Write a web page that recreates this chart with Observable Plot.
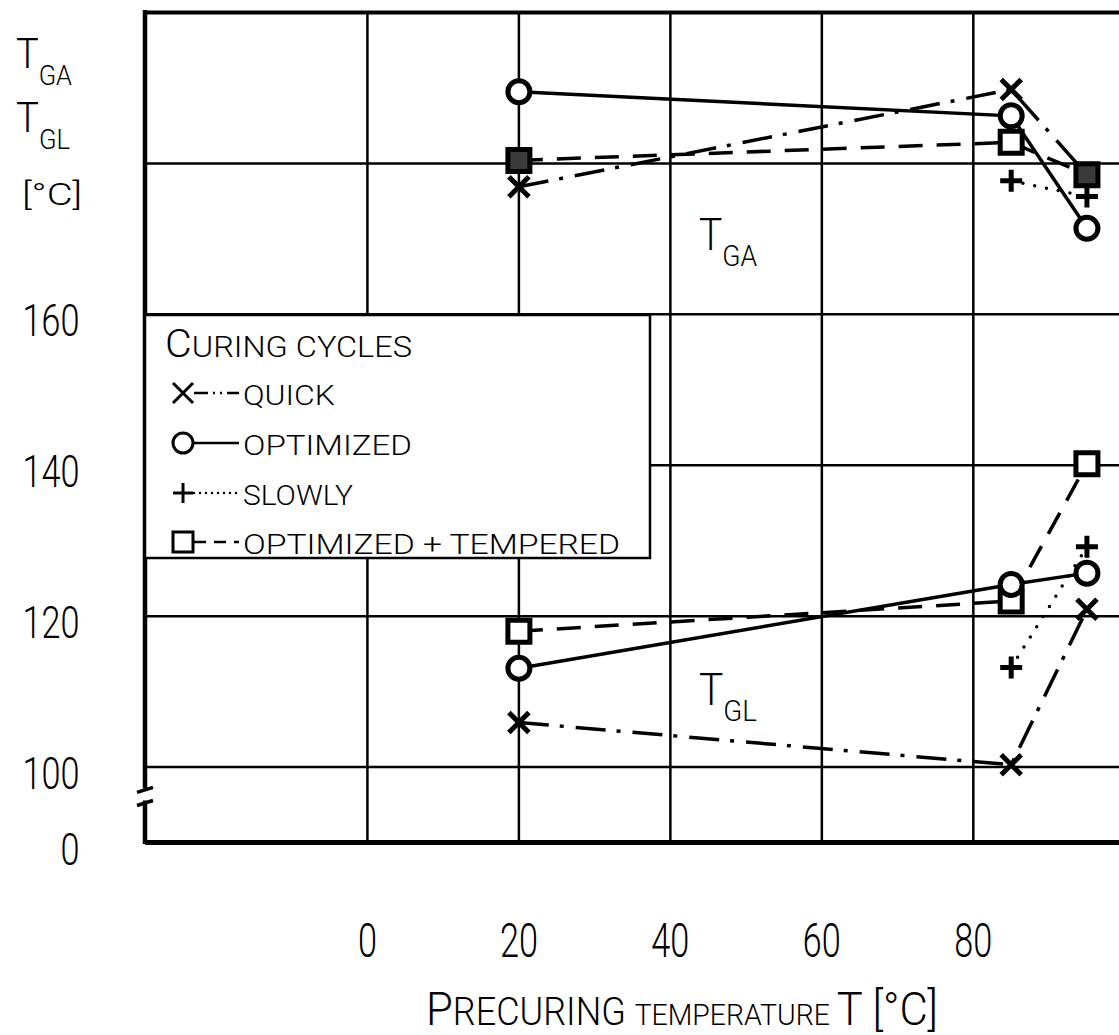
<!DOCTYPE html>
<html>
<head>
<meta charset="utf-8">
<script src="https://cdn.jsdelivr.net/npm/d3@7"></script>
<script src="https://cdn.jsdelivr.net/npm/@observablehq/plot@0.6"></script>
<style>
  html, body { margin: 0; padding: 0; background: #fff; }
  #chart svg { display: block; }
  #chart svg text { font-weight: 300; }
</style>
</head>
<body>
<div id="chart"></div>
<script>
// Precuring temperatures (°C) at which the glass transitions were measured
const precureTemps = [20, 85, 95];

// Upper glass transition T_GA (°C) for each curing cycle; null = not measured
const tgaQuick     = [176.9, 189.8, 178.5];
const tgaOptimized = [189.5, 186.3, 171.4];
const tgaSlowly    = [null, 177.7, 175.6];
const tgaTempered  = [180.4, 182.8, 178.5];

// Lower glass transition T_GL (°C) for each curing cycle
const tglQuick     = [105.9, 100.3, 120.9];
const tglOptimized = [113.1, 124.2, 125.7];
const tglSlowly    = [null, 113.2, 129.2];
const tglTempered  = [118.0, 122.0, 140.2];

const cycleNames = ["QUICK", "OPTIMIZED", "SLOWLY", "OPTIMIZED + TEMPERED"];

// Axis ticks; the lowest y tick sits on the axis break and reads "0"
const xTicks = [0, 20, 40, 60, 80];
const yTicks = [90, 100, 120, 140, 160];
const yTickLabels = ["0", "100", "120", "140", "160"];
const xGrid = [0, 20, 40, 60, 80];
const yGrid = [100, 120, 140, 160, 180];

// ---------------------------------------------------------------------------

const FONT = 'Roboto, "DejaVu Sans Condensed", "Liberation Sans", sans-serif';

function rows(values, cycle, transition) {
  return precureTemps
    .map((t, i) => ({t, v: values[i], cycle, transition}))
    .filter(d => d.v != null);
}

const series = [
  ...rows(tgaQuick, "QUICK", "GA"),
  ...rows(tgaOptimized, "OPTIMIZED", "GA"),
  ...rows(tgaSlowly, "SLOWLY", "GA"),
  ...rows(tgaTempered, "OPTIMIZED + TEMPERED", "GA"),
  ...rows(tglQuick, "QUICK", "GL"),
  ...rows(tglOptimized, "OPTIMIZED", "GL"),
  ...rows(tglSlowly, "SLOWLY", "GL"),
  ...rows(tglTempered, "OPTIMIZED + TEMPERED", "GL")
];

// Marker shapes sized by the dot radius
const timesSymbol = {draw(c, size) { const r = Math.sqrt(size / Math.PI); c.moveTo(-r, -r); c.lineTo(r, r); c.moveTo(-r, r); c.lineTo(r, -r); }};
const plusSymbol = {draw(c, size) { const r = Math.sqrt(size / Math.PI); c.moveTo(-r, 0); c.lineTo(r, 0); c.moveTo(0, -r); c.lineTo(0, r); }};
const squareSymbol = {draw(c, size) { const r = Math.sqrt(size / Math.PI); c.rect(-r, -r, 2 * r, 2 * r); }};
const circleSymbol = {draw(c, size) { const r = Math.sqrt(size / Math.PI); c.moveTo(r, 0); c.arc(0, 0, r, 0, 2 * Math.PI); c.closePath(); }};

const cycleStyle = {
  "QUICK":                {symbol: timesSymbol,  r: 10, dash: "30,11,4,12", legendDash: "14,5,2,5,2,5,16", cap: "butt"},
  "OPTIMIZED":            {symbol: circleSymbol, r: 11, dash: null,          legendDash: null,               cap: "butt"},
  "SLOWLY":               {symbol: plusSymbol,   r: 11, dash: "0,12",        legendDash: "0,6",              cap: "round"},
  "OPTIMIZED + TEMPERED": {symbol: squareSymbol, r: 11, dash: "24,14",       legendDash: "12,8",             cap: "butt"}
};

const bySeries = name => series.filter(d => d.cycle === name);

// A tempered square that lies on top of a quick-cycle cross is drawn solid
const coversQuick = d => series.some(q => q.cycle === "QUICK" && q.transition === d.transition && q.t === d.t && Math.abs(q.v - d.v) < 4);

const lineMarks = cycleNames.map(name => {
  const s = cycleStyle[name];
  const opts = {x: "t", y: "v", z: "transition", stroke: "black", strokeWidth: 3.5, strokeLinecap: s.cap};
  if (s.dash) opts.strokeDasharray = s.dash;
  return Plot.line(bySeries(name), opts);
});

function dotMark(data, name, fill) {
  const s = cycleStyle[name];
  return Plot.dot(data, {x: "t", y: "v", symbol: s.symbol, r: s.r, fill, stroke: "black", strokeWidth: 5, strokeLinecap: "butt"});
}

const tempered = bySeries("OPTIMIZED + TEMPERED");

const chart = Plot.plot({
  width: 1119,
  height: 1035,
  marginTop: 12,
  marginRight: 0,
  marginBottom: 193,
  marginLeft: 145,
  style: {fontFamily: FONT, color: "black", background: "white"},
  x: {domain: [-29.3, 99.3], axis: null},
  y: {domain: [90, 200], axis: null},
  marks: [
    // grid
    Plot.ruleX(xGrid, {stroke: "black", strokeWidth: 2.5}),
    Plot.ruleY(yGrid, {stroke: "black", strokeWidth: 2.5}),
    // frame: top border and broken-off bottom axis
    Plot.ruleY([200], {stroke: "black", strokeWidth: 4}),
    Plot.ruleY([90], {stroke: "black", strokeWidth: 5}),
    // tick labels
    Plot.axisX({ticks: xTicks, tickSize: 0, tickPadding: 80, fontSize: 48, label: null, tickFormat: d => String(d)}),
    Plot.axisY({ticks: yTicks, tickSize: 0, tickPadding: 66, fontSize: 44, dy: 8, label: null, tickFormat: d => yTickLabels[yTicks.indexOf(d)]}),
    // curves
    ...lineMarks,
    dotMark(bySeries("QUICK"), "QUICK", "none"),
    dotMark(tempered.filter(d => !coversQuick(d)), "OPTIMIZED + TEMPERED", "white"),
    dotMark(tempered.filter(coversQuick), "OPTIMIZED + TEMPERED", "#3a3a3a"),
    dotMark(bySeries("SLOWLY"), "SLOWLY", "none"),
    dotMark(bySeries("OPTIMIZED"), "OPTIMIZED", "white")
  ]
});

document.getElementById("chart").append(chart);

const svg = d3.select(chart);

// Narrow lettering for the tick labels
svg.selectAll('g[aria-label="x-axis tick label"] text, g[aria-label="y-axis tick label"] text')
  .each(function() {
    const n = this.textContent.length;
    d3.select(this).attr("textLength", n * 19).attr("lengthAdjust", "spacingAndGlyphs");
  });

const X = chart.scale("x"), Y = chart.scale("y");
const px = v => X.apply(v), py = v => Y.apply(v);

// Left axis with a break just below 100
const axisX0 = px(-29.3);
const gapTop = py(97.1), gapBottom = py(95.5);
const frame = svg.append("g").attr("stroke", "black").attr("fill", "none");
frame.append("line").attr("x1", axisX0).attr("x2", axisX0).attr("y1", py(200) - 2).attr("y2", gapTop).attr("stroke-width", 4.5);
frame.append("line").attr("x1", axisX0).attr("x2", axisX0).attr("y1", gapBottom).attr("y2", py(90) + 2).attr("stroke-width", 4.5);
frame.append("path").attr("d", `M${axisX0 - 8},${gapTop + 4}L${axisX0 + 8},${gapTop - 1}`).attr("stroke-width", 3.5);
frame.append("path").attr("d", `M${axisX0 - 8},${gapBottom + 5}L${axisX0 + 8},${gapBottom}`).attr("stroke-width", 3.5);

// Text helper: a run of differently sized parts on one baseline
function label(parent, x, y, parts, opts = {}) {
  const t = parent.append("text").attr("x", x).attr("y", y)
    .attr("font-family", FONT).attr("fill", "black")
    .attr("text-anchor", opts.anchor || "start");
  if (opts.length) t.attr("textLength", opts.length).attr("lengthAdjust", "spacingAndGlyphs");
  for (const [txt, size, dy] of parts) {
    const s = t.append("tspan").attr("font-size", size).text(txt);
    if (dy) s.attr("dy", dy);
  }
  return t;
}

// Y-axis title
const titles = svg.append("g");
label(titles, 16, 68, [["T", 42], ["GA", 28, 17]], {length: 56});
label(titles, 16, 132, [["T", 42], ["GL", 28, 17]], {length: 54});
label(titles, 22, 205, [["[°C]", 32]], {length: 60});

// X-axis title in small capitals
label(titles, 426, 1025, [["P", 46], ["RECURING ", 38], ["TEMPERATURE ", 30], ["T [°C]", 46]], {length: 512});

// Curve group labels
label(titles, 699, 250, [["T", 44], ["GA", 30, 16]], {length: 58});
label(titles, 699, 705, [["T", 44], ["GL", 30, 16]], {length: 58});

// Legend
const lg = svg.append("g");
const boxTop = 315, boxBottom = 558, boxLeft = axisX0, boxRight = 650;
lg.append("rect").attr("x", boxLeft).attr("y", boxTop).attr("width", boxRight - boxLeft).attr("height", boxBottom - boxTop)
  .attr("fill", "white").attr("stroke", "black").attr("stroke-width", 2.5);
label(lg, 165, 357, [["C", 38], ["URING CYCLES", 30]], {length: 247});
const rowY = [393, 443, 493, 542];
const textLen = {"QUICK": 92, "OPTIMIZED": 169, "SLOWLY": 110, "OPTIMIZED + TEMPERED": 377};
cycleNames.forEach((name, i) => {
  const s = cycleStyle[name];
  const cy = rowY[i], cx = 183;
  const ln = lg.append("line").attr("x1", 194).attr("x2", 239).attr("y1", cy).attr("y2", cy)
    .attr("stroke", "black").attr("stroke-width", 2.5).attr("stroke-linecap", s.cap);
  if (s.legendDash) ln.attr("stroke-dasharray", s.legendDash);
  const p = d3.path();
  s.symbol.draw(p, Math.PI * 10 * 10);
  lg.append("path").attr("d", p.toString()).attr("transform", `translate(${cx},${cy})`)
    .attr("fill", name === "OPTIMIZED" || name === "OPTIMIZED + TEMPERED" ? "white" : "none")
    .attr("stroke", "black").attr("stroke-width", 3);
  label(lg, 243, cy + 12, [[name, 28]], {length: textLen[name]});
});
</script>
</body>
</html>
